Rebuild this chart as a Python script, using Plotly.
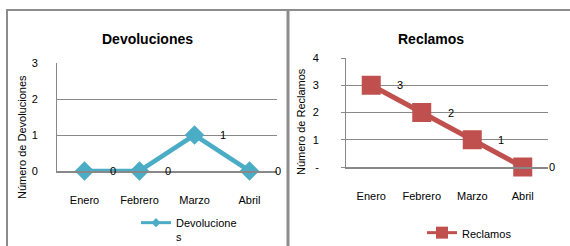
import plotly.graph_objects as go

# ---- data ----
meses = ["Enero", "Febrero", "Marzo", "Abril"]
devoluciones = [0, 0, 1, 0]
reclamos = [3, 2, 1, 0]
dev_tickvals = [0, 1, 2, 3]
dev_ticktext = ["0", "1", "2", "3"]
rec_tickvals = [0, 1, 2, 3, 4]
rec_ticktext = ["-", "1", "2", "3", "4"]

W, H = 570, 246
def px(x): return x / W
def py(y): return 1 - y / H

TEAL = "#4BACC6"
RED = "#C0504D"
GRID = "#888888"
FONT = "Liberation Sans, Arial, sans-serif"

fig = go.Figure()
fig.add_trace(go.Scatter(
    x=meses, y=devoluciones, name="Devoluciones", mode="lines+markers",
    line=dict(color=TEAL, width=4.5), cliponaxis=False, showlegend=False,
    marker=dict(symbol="diamond", size=15, color=TEAL),
    xaxis="x", yaxis="y"))
fig.add_trace(go.Scatter(
    x=meses, y=reclamos, name="Reclamos", mode="lines+markers",
    line=dict(color=RED, width=5), cliponaxis=False, showlegend=False,
    marker=dict(symbol="square", size=19, color=RED),
    xaxis="x2", yaxis="y2"))
# legend-only entries (smaller legend symbols, as in the original)
fig.add_trace(go.Scatter(
    x=[None], y=[None], name="Devolucione<br>s", mode="lines+markers",
    line=dict(color=TEAL, width=3), marker=dict(symbol="diamond", size=7, color=TEAL),
    xaxis="x", yaxis="y", legend="legend"))
fig.add_trace(go.Scatter(
    x=[None], y=[None], name="Reclamos", mode="lines+markers",
    line=dict(color=RED, width=3), marker=dict(symbol="square", size=12, color=RED),
    xaxis="x2", yaxis="y2", legend="legend2"))

annotations = []
for m, v in zip(meses, devoluciones):
    annotations.append(dict(x=m, y=v, xref="x", yref="y", text=str(v), showarrow=False,
                            xanchor="center", yanchor="middle",
                            xshift=28, font=dict(size=11, color="black")))
for m, v in zip(meses, reclamos):
    annotations.append(dict(x=m, y=v, xref="x2", yref="y2", text=str(v), showarrow=False,
                            xanchor="center", yanchor="middle",
                            xshift=29, font=dict(size=11, color="black")))

# titles and axis titles
def lab(x, y, text, size, angle=0):
    return dict(x=px(x), y=py(y), xref="paper", yref="paper", text=text,
                xanchor="center", yanchor="middle", textangle=angle,
                showarrow=False, font=dict(size=size, color="black"))

annotations += [
    lab(147, 39, "<b>Devoluciones</b>", 14),
    lab(431, 39, "<b>Reclamos</b>", 14),
    lab(22, 137, "Número de Devoluciones", 11, -90),
    lab(301, 122, "Número de Reclamos", 11, -90),
]

# chart frames (decoration)
shapes = [
    dict(type="line", xref="paper", yref="paper", x0=px(6), x1=1, y0=py(10), y1=py(10),
         line=dict(color="#8C8C8C", width=2)),
    dict(type="line", xref="paper", yref="paper", x0=px(7), x1=px(7), y0=py(9), y1=0,
         line=dict(color="#8C8C8C", width=2)),
    dict(type="line", xref="paper", yref="paper", x0=px(288), x1=px(288), y0=py(9), y1=0,
         line=dict(color="#8C8C8C", width=3)),
]

xcommon = dict(type="category", range=[-0.5, 3.5], showgrid=False, ticks="",
               showline=True, linecolor=GRID, zeroline=False, fixedrange=True,
               tickfont=dict(size=11, color="black"), ticklabelstandoff=18)
ycommon = dict(showgrid=True, gridcolor=GRID, gridwidth=1, showline=True, linecolor=GRID,
               zeroline=False, fixedrange=True, tickfont=dict(size=11, color="black"))

fig.update_layout(
    width=W, height=H, autosize=False,
    margin=dict(l=0, r=0, t=0, b=0, pad=0, autoexpand=False),
    paper_bgcolor="white", plot_bgcolor="white",
    font=dict(family=FONT, size=11, color="black"),
    xaxis=dict(domain=[px(57), px(277)], anchor="y", linewidth=2, **xcommon),
    yaxis=dict(domain=[py(171), py(63)], anchor="x", range=[0, 3],
               tickvals=dev_tickvals, ticktext=dev_ticktext, ticks="",
               ticklabelstandoff=16, **ycommon),
    xaxis2=dict(domain=[px(346), px(548)], anchor="y2", linewidth=1.5, **xcommon),
    yaxis2=dict(domain=[py(167), py(58)], anchor="x2", range=[0, 4],
                tickvals=rec_tickvals, ticktext=rec_ticktext, ticks="outside",
                ticklen=4, tickcolor=GRID, ticklabelstandoff=20, **ycommon),
    legend=dict(x=px(136), y=py(209), xanchor="left", yanchor="top", valign="top",
                bgcolor="rgba(0,0,0,0)", font=dict(size=11)),
    legend2=dict(x=px(422), y=py(219), xanchor="left", yanchor="top", valign="top",
                 bgcolor="rgba(0,0,0,0)", font=dict(size=11)),
    annotations=annotations,
    shapes=shapes,
    showlegend=True,
    hovermode=False,
)

fig.write_html("out.html", config={"displayModeBar": False, "staticPlot": True},
               post_script="document.body.style.margin='0';")
